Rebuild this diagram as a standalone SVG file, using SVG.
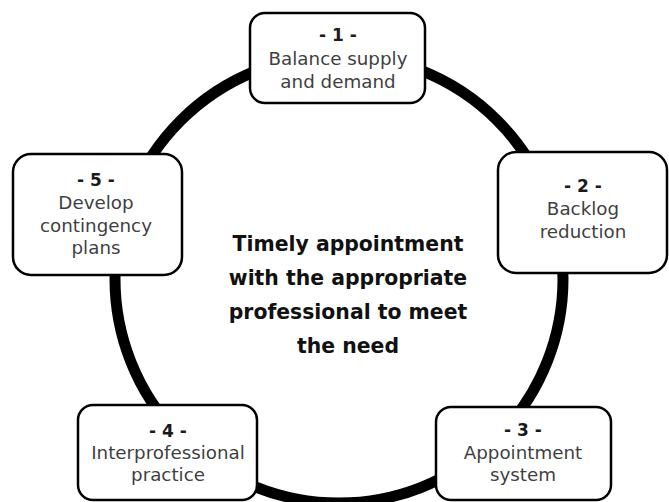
<svg xmlns="http://www.w3.org/2000/svg" width="669" height="502" viewBox="0 0 669 502">
<style>
.box{fill:#fff;stroke:#000;stroke-width:2.5}
.num{font-family:"DejaVu Sans",sans-serif;font-weight:bold;font-size:17px;fill:#1a1a1a;text-anchor:middle}
.lbl{font-family:"DejaVu Sans",sans-serif;font-size:18.3px;fill:#3f3f3f;text-anchor:middle}
.ctr{font-family:"DejaVu Sans",sans-serif;font-weight:bold;font-size:20.4px;fill:#111;text-anchor:middle}
</style>
<rect width="669" height="502" fill="#fff"/>
<g id="connectors">
<circle cx="339" cy="279" r="224" fill="none" stroke="#000" stroke-width="11"/>
</g>
<g id="center">
<text class="ctr" x="348" y="251">Timely appointment</text>
<text class="ctr" x="348" y="285">with the appropriate</text>
<text class="ctr" x="348" y="319">professional to meet</text>
<text class="ctr" x="348" y="353">the need</text>
</g>
<g id="node1">
<rect class="box" x="250" y="13" width="175" height="90" rx="15"/>
<text class="num" x="338" y="41">- 1 -</text>
<text class="lbl" x="338" y="65">Balance supply</text>
<text class="lbl" x="338" y="88">and demand</text>
</g>
<g id="node2">
<rect class="box" x="498" y="152" width="169" height="121" rx="18"/>
<text class="num" x="583" y="192">- 2 -</text>
<text class="lbl" x="583" y="215">Backlog</text>
<text class="lbl" x="583" y="238">reduction</text>
</g>
<g id="node3">
<rect class="box" x="436" y="407" width="175" height="93" rx="15"/>
<text class="num" x="523" y="436">- 3 -</text>
<text class="lbl" x="523" y="459">Appointment</text>
<text class="lbl" x="523" y="481">system</text>
</g>
<g id="node4">
<rect class="box" x="78" y="405" width="179" height="95" rx="15"/>
<text class="num" x="168" y="437">- 4 -</text>
<text class="lbl" x="168" y="459">Interprofessional</text>
<text class="lbl" x="168" y="481">practice</text>
</g>
<g id="node5">
<rect class="box" x="13" y="154" width="169" height="121" rx="18"/>
<text class="num" x="96" y="186">- 5 -</text>
<text class="lbl" x="96" y="209">Develop</text>
<text class="lbl" x="96" y="232">contingency</text>
<text class="lbl" x="96" y="254">plans</text>
</g>
</svg>
